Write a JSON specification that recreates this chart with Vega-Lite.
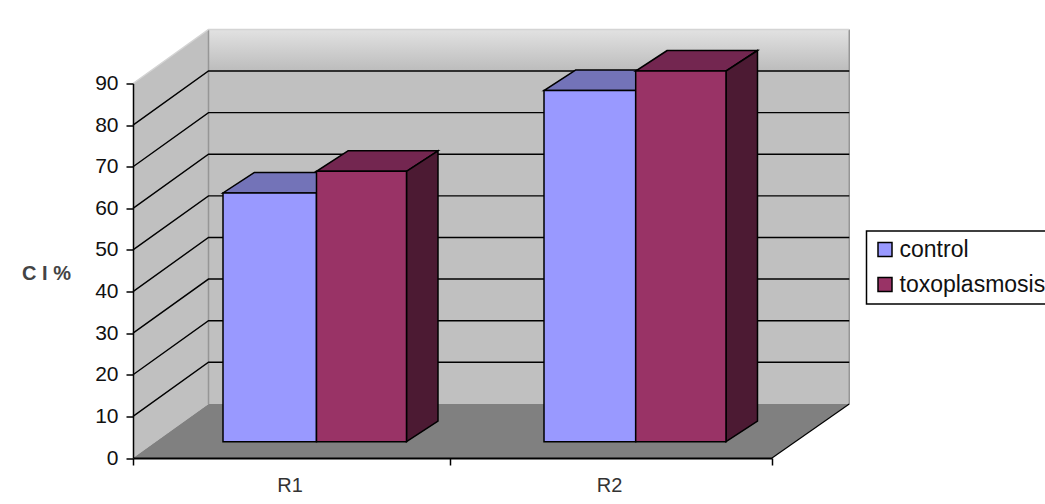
{
"$schema":"https://vega.github.io/schema/vega-lite/v6.json",
"autosize":{"type":"none"},
"padding":{"left":133,"top":83.5,"right":273,"bottom":46},
"width":639,
"height":374.5,
"background":"white",
"config":{"view":{"stroke":null},"legend":{"strokeWidth":1.5}},
"datasets":{
"wall":[{"x":0.2363,"x2":2.2418,"y":13,"y2":103}],
"band":[{"x":0.2363,"x2":2.2418,"y":93,"y2":103}],
"leftwall":[{"x":0,"y":0,"y2":90},{"x":0.2363,"y":13,"y2":103}],
"floor":[{"y":0,"x":0,"x2":2},{"y":13,"x":0.2363,"x2":2.2418}],
"edges":[
{"id":"right","x":2,"y":0},{"id":"right","x":2.2418,"y":13}
],
"topEdges":[
{"id":"a","x":0,"y":90},{"id":"a","x":0.2363,"y":103},{"id":"a","x":2.2418,"y":103}
],
"wallEdges":[
{"id":"c","x":2.2418,"y":103},{"id":"c","x":2.2418,"y":13},
{"id":"b","x":0.2363,"y":103},{"id":"b","x":0.2363,"y":13}
],
"grid":[
{"v":10,"x":0,"y":10},{"v":10,"x":0.2363,"y":23},{"v":10,"x":2.2418,"y":23},
{"v":20,"x":0,"y":20},{"v":20,"x":0.2363,"y":33},{"v":20,"x":2.2418,"y":33},
{"v":30,"x":0,"y":30},{"v":30,"x":0.2363,"y":43},{"v":30,"x":2.2418,"y":43},
{"v":40,"x":0,"y":40},{"v":40,"x":0.2363,"y":53},{"v":40,"x":2.2418,"y":53},
{"v":50,"x":0,"y":50},{"v":50,"x":0.2363,"y":63},{"v":50,"x":2.2418,"y":63},
{"v":60,"x":0,"y":60},{"v":60,"x":0.2363,"y":73},{"v":60,"x":2.2418,"y":73},
{"v":70,"x":0,"y":70},{"v":70,"x":0.2363,"y":83},{"v":70,"x":2.2418,"y":83},
{"v":80,"x":0,"y":80},{"v":80,"x":0.2363,"y":93},{"v":80,"x":2.2418,"y":93}
],
"bars":[
{"series":"control","category":"R1","value":60,"x":0.2817,"x2":0.5743,"y":3.92,"y2":63.7},
{"series":"toxoplasmosis","category":"R1","value":65,"x":0.5743,"x2":0.856,"y":3.92,"y2":68.9},
{"series":"control","category":"R2","value":84.5,"x":1.2864,"x2":1.5734,"y":3.92,"y2":88.3},
{"series":"toxoplasmosis","category":"R2","value":89,"x":1.5734,"x2":1.856,"y":3.92,"y2":93}
],
"controlTops":[
{"id":"R1","y":63.7,"x":0.2817,"x2":0.5743},{"id":"R1","y":68.63,"x":0.3803,"x2":0.6729},
{"id":"R2","y":88.3,"x":1.2864,"x2":1.5734},{"id":"R2","y":93.23,"x":1.385,"x2":1.672}
],
"toxTops":[
{"id":"R1","y":68.9,"x":0.5743,"x2":0.856},{"id":"R1","y":73.83,"x":0.6729,"x2":0.9546},
{"id":"R2","y":93,"x":1.5734,"x2":1.856},{"id":"R2","y":97.93,"x":1.672,"x2":1.9546}
],
"toxSides":[
{"id":"R1","x":0.856,"y":3.92,"y2":68.9},{"id":"R1","x":0.9546,"y":8.85,"y2":73.83},
{"id":"R2","x":1.856,"y":3.92,"y2":93},{"id":"R2","x":1.9546,"y":8.85,"y2":97.93}
]
},
"encoding":{
"x":{"field":"x","type":"quantitative","scale":{"domain":[0,2],"nice":false,"zero":false},
"axis":{"title":null,"values":[0,0.49,0.992,1.49,2],"grid":false,"zindex":1,"domainColor":"#000","domainWidth":2,"tickColor":"#000","tickWidth":1.5,"tickSize":7,
"tickOpacity":{"expr":"datum.value==0.49||datum.value==1.49?0:1"},
"labelExpr":"datum.value==0.49?'R1':datum.value==1.49?'R2':''","labelFont":"Liberation Sans","labelFontSize":20,"labelColor":"#333","labelPadding":10,"labelBound":false,"labelOverlap":false,"labelFlush":false}},
"y":{"field":"y","type":"quantitative","scale":{"domain":[0,90],"nice":false,"zero":false},
"axis":{"title":"C I %","titleAngle":0,"titleX":-87,"titleY":190,"titleAlign":"center","titleBaseline":"middle","titleFont":"Liberation Sans","titleFontSize":20,"titleFontWeight":"bold","titleColor":"#444",
"values":[0,10,20,30,40,50,60,70,80,90],"grid":false,"zindex":1,"domainColor":"#000","domainWidth":1.5,"tickColor":"#000","tickWidth":1.5,"tickSize":7,"labelFont":"Liberation Sans","labelFontSize":21,"labelColor":"#111","labelPadding":8,"labelOverlap":false,"labelFlush":false,"labelBound":false}}
},
"layer":[
{"data":{"name":"wall"},"mark":{"type":"rect","fill":"#c0c0c0","clip":false},"encoding":{"x2":{"field":"x2"},"y2":{"field":"y2"}}},
{"data":{"name":"band"},"mark":{"type":"rect","clip":false,"fill":{"gradient":"linear","x1":0,"y1":0,"x2":0,"y2":1,"stops":[{"offset":0,"color":"#e2e2e2"},{"offset":1,"color":"#bcbcbc"}]}},"encoding":{"x2":{"field":"x2"},"y2":{"field":"y2"}}},
{"data":{"name":"leftwall"},"mark":{"type":"area","fill":"#c0c0c0","clip":false},"encoding":{"y2":{"field":"y2"}}},
{"data":{"name":"floor"},"mark":{"type":"area","orient":"horizontal","fill":"#808080","clip":false},"encoding":{"x2":{"field":"x2"}}},
{"data":{"name":"wallEdges"},"mark":{"type":"line","stroke":"#969696","strokeWidth":1.5,"clip":false},"encoding":{"detail":{"field":"id"},"order":null}},
{"data":{"name":"topEdges"},"mark":{"type":"line","stroke":"#d4d4d4","strokeWidth":1.5,"clip":false},"encoding":{"detail":{"field":"id"},"order":null}},
{"data":{"name":"grid"},"mark":{"type":"line","stroke":"#000","strokeWidth":1.4,"clip":false},"encoding":{"detail":{"field":"v"}}},
{"data":{"name":"edges"},"mark":{"type":"line","stroke":"#000","strokeWidth":1.2,"clip":false},"encoding":{"detail":{"field":"id"}}},
{"data":{"name":"controlTops"},"mark":{"type":"area","orient":"horizontal","fill":"#7373b8","stroke":"#000","strokeWidth":1.5,"clip":false},"encoding":{"x2":{"field":"x2"},"detail":{"field":"id"}}},
{"data":{"name":"toxTops"},"mark":{"type":"area","orient":"horizontal","fill":"#732650","stroke":"#000","strokeWidth":1.5,"clip":false},"encoding":{"x2":{"field":"x2"},"detail":{"field":"id"}}},
{"data":{"name":"toxSides"},"mark":{"type":"area","fill":"#4c1a33","stroke":"#000","strokeWidth":1.5,"clip":false},"encoding":{"y2":{"field":"y2"},"detail":{"field":"id"}}},
{"data":{"name":"bars"},"mark":{"type":"rect","stroke":"#000","strokeWidth":1.5,"clip":false},
"encoding":{"x2":{"field":"x2"},"y2":{"field":"y2"},
"color":{"field":"series","type":"nominal","scale":{"domain":["control","toxoplasmosis"],"range":["#9999ff","#993366"]},
"legend":{"title":null,"orient":"none","legendX":733.5,"legendY":147.5,"fillColor":"#fff","strokeColor":"#000","padding":7,"symbolType":"square","symbolSize":196,"symbolStrokeColor":"#000","symbolStrokeWidth":1.5,"labelFont":"Liberation Sans","labelFontSize":23,"labelColor":"#111","labelOffset":3,"labelLimit":400,"rowPadding":11}}}}
]
}
